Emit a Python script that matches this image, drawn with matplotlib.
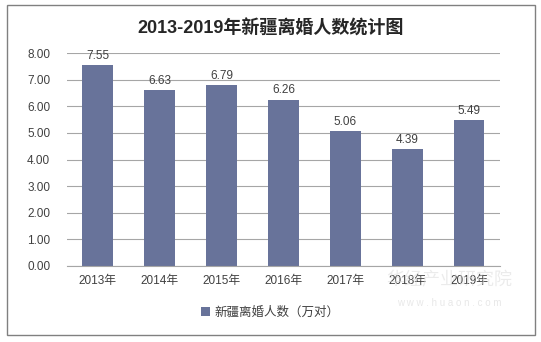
import matplotlib.pyplot as plt
from matplotlib.patches import Rectangle

plt.rcParams['font.family'] = ['Liberation Sans', 'Noto Sans CJK SC', 'DejaVu Sans']

years = ["2013年", "2014年", "2015年", "2016年", "2017年", "2018年", "2019年"]
divorces = [7.55, 6.63, 6.79, 6.26, 5.06, 4.39, 5.49]
series_name = "新疆离婚人数（万对）"

bar_color = "#68739A"
text_color = "#404040"

fig = plt.figure(figsize=(5.41, 3.42), dpi=100)
ax = fig.add_axes([0.1238, 0.2231, 0.8003, 0.621])

x = range(len(years))
bars = ax.bar(x, divorces, width=0.5, color=bar_color, zorder=2, label=series_name)
for i, v in zip(x, divorces):
    ax.text(i, v + 0.12, f"{v:.2f}", ha="center", va="bottom", fontsize=8.5, color=text_color, zorder=3)

ax.set_xlim(-0.5, len(years) - 0.5)
ax.set_ylim(0, 8)
ax.set_yticks([0, 1, 2, 3, 4, 5, 6, 7, 8])
ax.set_yticklabels([f"{t:.2f}" for t in range(9)])
ax.set_xticks(list(x))
ax.set_xticklabels(years)
ax.tick_params(axis="both", length=0, labelsize=8.5, labelcolor=text_color)
ax.tick_params(axis="y", pad=12)
ax.tick_params(axis="x", pad=7)
ax.grid(axis="y", color="#a6a6a6", linewidth=0.8, zorder=1)
for s in ["top", "right", "left"]:
    ax.spines[s].set_visible(False)
ax.spines["bottom"].set_color("#a6a6a6")

fig.text(0.5, 0.918, "2013-2019年新疆离婚人数统计图", ha="center", va="center",
         fontsize=13, fontweight="bold", color="#262626")

leg = fig.legend(handles=[bars], labels=[series_name], loc="center", bbox_to_anchor=(0.5, 0.085),
                 frameon=False, fontsize=9, handlelength=0.7, handleheight=0.7, handletextpad=0.4)
for t in leg.get_texts():
    t.set_color(text_color)

# watermark
fig.text(0.83, 0.178, "华经产业研究院", ha="center", va="center", fontsize=13,
         color="#d9d9d9", alpha=0.5, zorder=0)
fig.text(0.83, 0.115, "w w w . h u a o n . c o m", ha="center", va="center", fontsize=7,
         color="#d9d9d9", alpha=0.6, zorder=0)

fig.patches.append(Rectangle((7 / 541, 7 / 342), 528 / 541, 330 / 342, transform=fig.transFigure,
                             fill=False, edgecolor="#808080", linewidth=1))

fig.savefig("out.png", dpi=100)
